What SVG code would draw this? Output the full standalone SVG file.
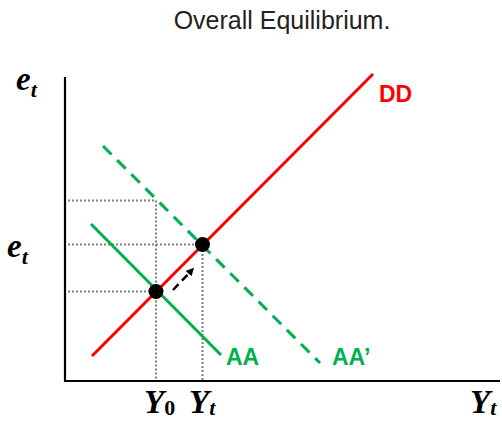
<svg xmlns="http://www.w3.org/2000/svg" width="502" height="422" viewBox="0 0 502 422">
  <defs>
    <marker id="arrowhead" markerWidth="8" markerHeight="8" refX="5" refY="4" orient="auto" markerUnits="userSpaceOnUse" viewBox="0 0 8 8">
      <path d="M0,0 L8,4 L0,8 Z" fill="#000"/>
    </marker>
    <style>
      .title { font-family: "Liberation Sans", Arial, sans-serif; font-size: 25px; fill: #222; }
      .var { font-family: "Liberation Serif", "Times New Roman", serif; font-weight: bold; font-style: italic; fill: #000; }
      .main { font-size: 33px; }
      .sub { font-size: 22px; }
      .up { font-style: normal; }
      .lbl { font-family: "Liberation Sans", Arial, sans-serif; font-weight: bold; font-size: 23px; }
      .axis { stroke: #000; stroke-width: 2.2; fill: none; }
      .dot { stroke: #7f7f7f; stroke-width: 2; stroke-dasharray: 2 2; fill: none; }
      .dd { stroke: #ff0000; stroke-width: 3; fill: none; }
      .aa { stroke: #00b050; stroke-width: 3; fill: none; }
      .aap { stroke: #00b050; stroke-width: 3; fill: none; stroke-dasharray: 12 8; }
      .eq { fill: #000; }
    </style>
  </defs>

  <text class="title" x="282" y="29" text-anchor="middle">Overall Equilibrium.</text>

  <g id="axes">
    <path class="axis" d="M65,77 L65,381 L500,381"/>
  </g>

  <g id="guides">
    <path class="dot" d="M68,200.5 L156,200.5 L156,380"/>
    <path class="dot" d="M68,244.5 L202.5,244.5 L202.5,380"/>
    <path class="dot" d="M68,291.5 L156,291.5"/>
  </g>

  <g id="connectors">
    <path class="aap" d="M103,146 L320,363"/>
    <path class="aa" d="M91,224 L221,355"/>
    <path class="dd" d="M92,356 L373,74"/>
    <path d="M173,290 L192,270" stroke="#000" stroke-width="2.5" stroke-dasharray="8 5" fill="none" marker-end="url(#arrowhead)"/>
  </g>

  <g id="eq0"><circle class="eq" cx="156" cy="291.5" r="7.5"/></g>
  <g id="eq1"><circle class="eq" cx="202.5" cy="244.5" r="7.5"/></g>

  <g id="label-DD"><text class="lbl" x="379" y="102" fill="#ff0000">DD</text></g>
  <g id="label-AA"><text class="lbl" x="226" y="365" fill="#00b050">AA</text></g>
  <g id="label-AAp"><text class="lbl" x="332" y="365" fill="#00b050">AA’</text></g>

  <g id="label-e-top"><text class="var" x="16" y="90"><tspan class="main">e</tspan><tspan class="sub" dy="7">t</tspan></text></g>
  <g id="label-e-mid"><text class="var" x="7" y="257"><tspan class="main">e</tspan><tspan class="sub" dy="7">t</tspan></text></g>
  <g id="label-Y0"><text class="var" x="144" y="413"><tspan class="main">Y</tspan><tspan class="sub up" dy="2">0</tspan></text></g>
  <g id="label-Yt"><text class="var" x="189" y="413"><tspan class="main">Y</tspan><tspan class="sub" dy="2">t</tspan></text></g>
  <g id="label-Yt-axis"><text class="var" x="470" y="413"><tspan class="main">Y</tspan><tspan class="sub" dy="2">t</tspan></text></g>
</svg>
